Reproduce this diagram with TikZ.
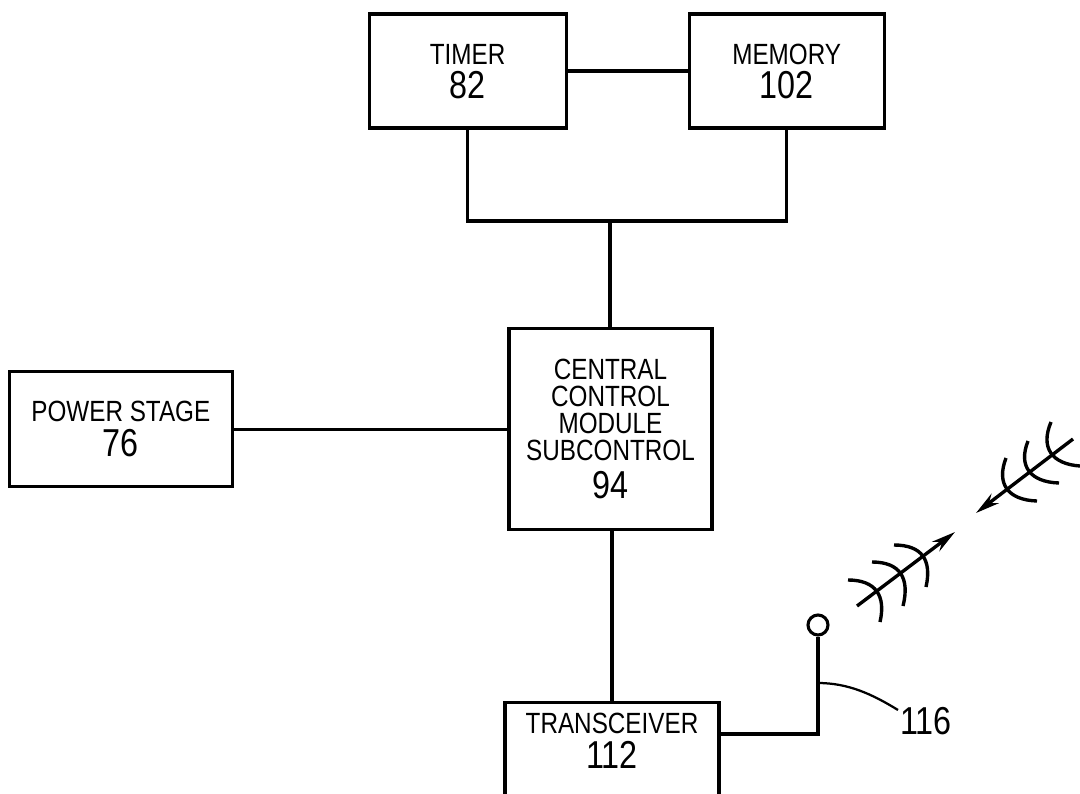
\documentclass[tikz,border=0pt]{standalone}
\usepackage{fontspec}
\setmainfont[FakeStretch=0.83]{Liberation Sans}
\usetikzlibrary{positioning,arrows.meta}
\newcommand{\numtext}[1]{{\fontsize{27.7}{20}\selectfont #1}}

\begin{document}
\begin{tikzpicture}[
        blocknode/.style={rectangle, draw, line width=2.2pt, align=center, inner sep=0pt, font=\fontsize{20.8}{19.2}\selectfont},
        textnode/.style={align=center, inner sep=0pt, font=\fontsize{20.8}{19.2}\selectfont},
        wire/.style={line width=2.2pt},
        thinwire/.style={line width=1.6pt},
        wave/.style={line width=2.4pt},
        wavearrow/.style={line width=2.4pt, -{Stealth[length=0.6cm,width=0.3cm]}},
        ]
        \useasboundingbox (0,0) rectangle (27,-19.825);
        \clip (0,0) rectangle (27,-19.825);
        %Nodes
        \node[blocknode, minimum width=4.925cm, minimum height=2.85cm] (timer) at (11.69,-1.775) {};
        \node[textnode] [below= 0.78cm of timer.north] (timertext) {TIMER\\[4pt]\numtext{82}};
        \node[blocknode, minimum width=4.875cm, minimum height=2.85cm] [right= 3cm of timer] (memory) {};
        \node[textnode] [below= 0.78cm of memory.north] (memorytext) {MEMORY\\[4pt]\numtext{102}};
        \coordinate (busleft) at (timer.south |- 0,-5.525);
        \coordinate (busright) at (memory.south |- 0,-5.525);
        \coordinate (busmid) at (15.25,-5.525);
        \node[blocknode, minimum width=5.075cm, minimum height=5.025cm] [below= 2.65cm of busmid, xshift=0.0125cm] (central) {CENTRAL\\CONTROL\\MODULE\\SUBCONTROL\\[6pt]\numtext{94}};
        \node[blocknode, minimum width=5.575cm, minimum height=2.875cm] [left= 6.84cm of central] (power) {POWER STAGE\\[4pt]\numtext{76}};
        \node[blocknode, minimum width=5.35cm, minimum height=3.5cm] [below= 4.25cm of central, xshift=0.0375cm] (transceiver) {};
        \node[textnode] [below= 0.3cm of transceiver.north] (transceivertext) {TRANSCEIVER\\[4pt]\numtext{112}};
        \node[circle, draw, line width=2.2pt, minimum size=0.5cm, inner sep=0pt] (tip) at (20.45,-15.625) {};
        \coordinate (corner) at (20.45,-18.35);
        \coordinate (leaderfoot) at (20.45,-17.075);
        \node[inner sep=0pt, font=\fontsize{27.7}{30}\selectfont] (ref) at (23.15,-18.025) {116};
        \coordinate (leaderend) at (22.45,-17.75);

        \draw[wire] (timer) -- (memory);
        \draw[wire] (timer.south) -- (busleft) -- (busright) -- (memory.south);
        \draw[wire] (busmid) -- (central.north -| busmid);
        \draw[wire] (power) -- (central);
        \draw[wire] (central.south -| transceiver.north) -- (transceiver.north);
        \draw[wire] (transceiver.east |- corner) -- (corner) -- (tip);
        \draw[thinwire] (leaderfoot) .. controls (21.2,-17.075) and (21.8,-17.35) .. (leaderend);

        %Waves
        \coordinate (outstart) at (21.425,-15.15);
        \coordinate (outend) at (23.875,-13.3);
        \draw[wavearrow] (outstart) -- (outend);
        \draw[wave] (21.2,-14.5) .. controls (21.9,-14.5) and (22.15,-14.9) .. (22,-15.55);
        \draw[wave] (21.8,-14.05) .. controls (22.5,-14.05) and (22.75,-14.45) .. (22.575,-15.15);
        \draw[wave] (22.35,-13.625) .. controls (23.05,-13.625) and (23.3,-14) .. (23.15,-14.675);

        \coordinate (instart) at (26.825,-10.975);
        \coordinate (inend) at (24.4,-12.825);
        \draw[wavearrow] (instart) -- (inend);
        \draw[wave] (25.15,-11.45) .. controls (24.9,-12.1) and (25.2,-12.5) .. (25.925,-12.525);
        \draw[wave] (25.7,-11.025) .. controls (25.45,-11.65) and (25.75,-12.05) .. (26.475,-12.075);
        \draw[wave] (26.275,-10.55) .. controls (26,-11.2) and (26.3,-11.6) .. (27,-11.65);
\end{tikzpicture}
\end{document}
